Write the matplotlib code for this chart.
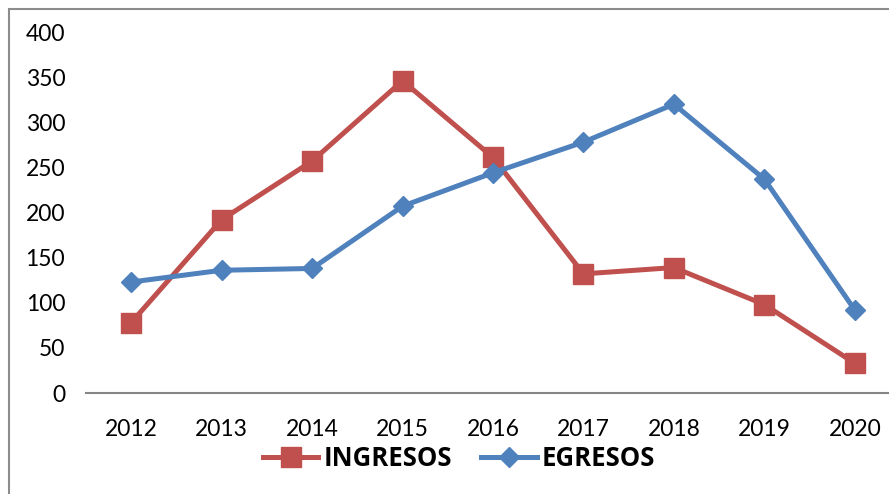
import matplotlib.pyplot as plt
from matplotlib.patches import Rectangle

years = ['2012', '2013', '2014', '2015', '2016', '2017', '2018', '2019', '2020']
ingresos = [78, 192, 257, 346, 261, 132, 139, 98, 33]
egresos = [123, 136, 138, 207, 244, 278, 320, 237, 92]

red = '#C0504D'
blue = '#4F81BD'

plt.rcParams['font.family'] = ['Lato', 'DejaVu Sans']

fig = plt.figure(figsize=(8.89, 4.94), dpi=100)

# outer chart frame (cut off on right and bottom like the original)
fig.patches.append(Rectangle((9 / 889, -0.1), 1.2, 1.1 - 9 / 494,
                             transform=fig.transFigure, fill=False,
                             edgecolor='#8c8c8c', linewidth=1.5))

ax = fig.add_axes([86 / 889, 1 - 393 / 494, (900 - 86) / 889, (393 - 32) / 494])
x = range(len(years))
l1, = ax.plot(x, ingresos, color=red, linewidth=3.6, marker='s', markersize=14,
              label='INGRESOS')
l2, = ax.plot(x, egresos, color=blue, linewidth=3.6, marker='D', markersize=10.5,
              label='EGRESOS')

ax.set_xlim(-0.5, len(years) - 0.5)
ax.set_ylim(0, 400)
ax.set_yticks(range(0, 401, 50))
ax.set_xticks(list(x))
ax.set_xticklabels(years)
for s in ['top', 'right', 'left']:
    ax.spines[s].set_visible(False)
ax.spines['bottom'].set_color('#868686')
ax.spines['bottom'].set_linewidth(1.5)
ax.tick_params(axis='both', length=0, labelsize=16.5)
ax.tick_params(axis='y', pad=15)
ax.tick_params(axis='x', pad=19)

fig.legend(handles=[l1, l2], loc='center', bbox_to_anchor=(459 / 889, 1 - 458 / 494),
           ncol=2, frameon=False, handlelength=2.15, handletextpad=0.2,
           columnspacing=1.15,
           prop={'family': 'Open Sans', 'weight': 'bold', 'size': 18.5})

fig.savefig('out.png', dpi=100)
